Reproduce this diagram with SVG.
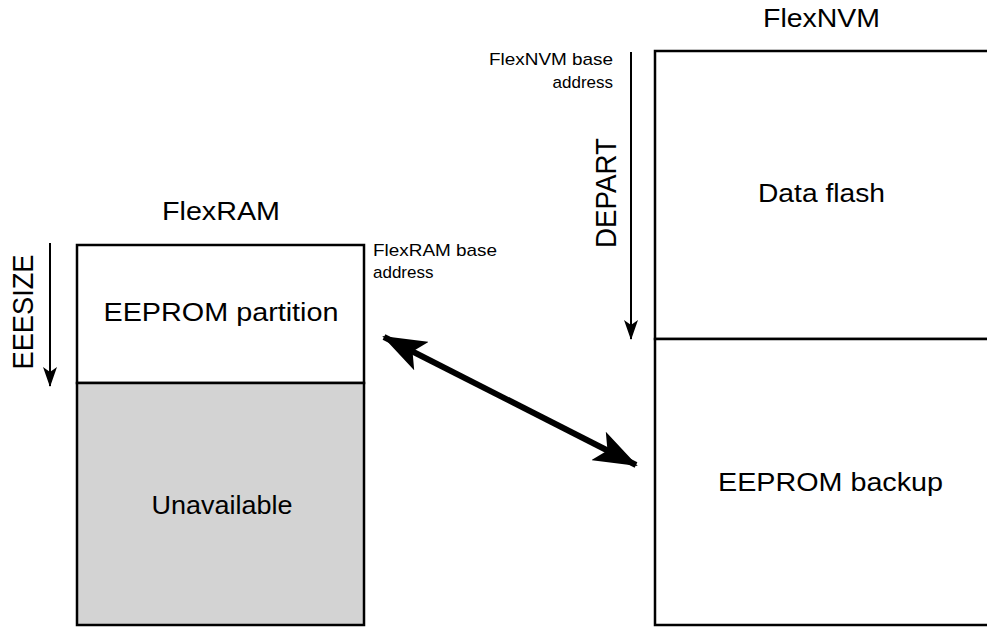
<svg xmlns="http://www.w3.org/2000/svg" width="987" height="628" viewBox="0 0 987 628">
<style>
text{font-family:"Liberation Sans",Arial,sans-serif;fill:#000}
.t{font-size:26px;text-anchor:middle}
.r{font-size:29px;text-anchor:middle}
.s{font-size:17px}
.box{fill:#fff;stroke:#000;stroke-width:2.5}
.thin{stroke:#000;stroke-width:2;fill:none}
</style>
<defs>
<marker id="ah" markerWidth="20" markerHeight="14" refX="19" refY="7" orient="auto" markerUnits="userSpaceOnUse" viewBox="0 0 20 14">
<path d="M0,0 L20,7 L0,14 L5,7 Z" fill="#000"/>
</marker>
<marker id="bh" markerWidth="44" markerHeight="32" refX="42" refY="16" orient="auto-start-reverse" markerUnits="userSpaceOnUse" viewBox="0 0 44 32">
<path d="M0,0 L44,16 L0,32 L10,16 Z" fill="#000"/>
</marker>
</defs>
<g id="flexram">
<text class="t" x="221" y="220" textLength="118" lengthAdjust="spacingAndGlyphs">FlexRAM</text>
<rect class="box" x="77" y="245" width="287" height="138"/>
<rect class="box" x="77" y="383" width="287" height="242" style="fill:#d3d3d3"/>
<text class="t" x="221" y="321" textLength="235" lengthAdjust="spacingAndGlyphs">EEPROM partition</text>
<text class="t" x="222" y="514" textLength="141" lengthAdjust="spacingAndGlyphs">Unavailable</text>
<text class="s" x="373" y="256" textLength="124" lengthAdjust="spacingAndGlyphs">FlexRAM base</text>
<text class="s" x="373" y="278">address</text>
<text class="r" transform="translate(33,312) rotate(-90)" x="0" y="0" textLength="115" lengthAdjust="spacingAndGlyphs">EEESIZE</text>
</g>
<g id="flexnvm">
<text class="t" x="821.5" y="27" textLength="117" lengthAdjust="spacingAndGlyphs">FlexNVM</text>
<rect class="box" x="655" y="51" width="360" height="288"/>
<rect class="box" x="655" y="339" width="360" height="286"/>
<text class="t" x="821.5" y="202" textLength="127" lengthAdjust="spacingAndGlyphs">Data flash</text>
<text class="t" x="830.5" y="491" textLength="225" lengthAdjust="spacingAndGlyphs">EEPROM backup</text>
<text class="s" x="613" y="65" text-anchor="end" textLength="124" lengthAdjust="spacingAndGlyphs">FlexNVM base</text>
<text class="s" x="613" y="88" text-anchor="end">address</text>
<text class="r" transform="translate(616,193) rotate(-90)" x="0" y="0" textLength="110" lengthAdjust="spacingAndGlyphs">DEPART</text>
</g>
<g id="connectors">
<line class="thin" x1="50" y1="243" x2="50" y2="386" marker-end="url(#ah)"/>
<line class="thin" x1="631" y1="52" x2="631" y2="339" marker-end="url(#ah)"/>
<line x1="384" y1="337" x2="636" y2="465" stroke="#000" stroke-width="6" marker-start="url(#bh)" marker-end="url(#bh)"/>
</g>
</svg>
